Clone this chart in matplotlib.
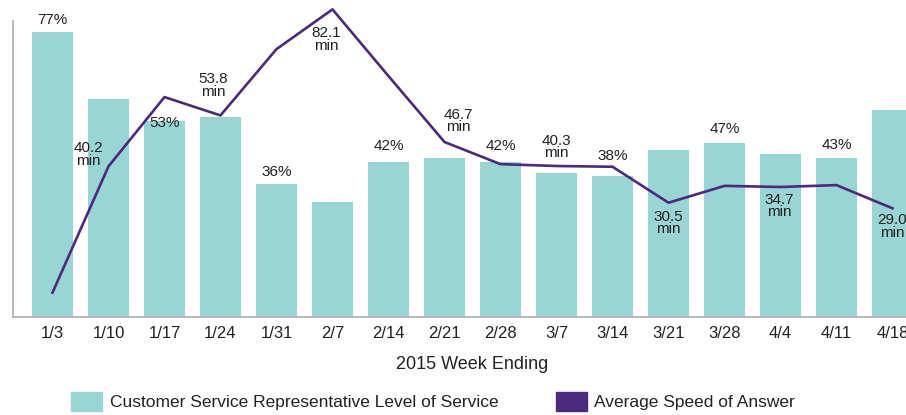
import matplotlib
matplotlib.use("Agg")
import matplotlib.pyplot as plt
from matplotlib.patches import Patch
import numpy as np

# weekly data
weeks = ['1/3', '1/10', '1/17', '1/24', '1/31', '2/7', '2/14', '2/21',
         '2/28', '3/7', '3/14', '3/21', '3/28', '4/4', '4/11', '4/18']
service_pct = [77, 59, 53, 54, 36, 31, 42, 43, 42, 39, 38, 45, 47, 44, 43, 56]
answer_min = [6.5, 40.2, 58.7, 53.8, 71.5, 82.1, 64.3, 46.7,
              40.8, 40.3, 40.1, 30.5, 35.0, 34.7, 35.2, 29.0]

# which points get a data label
bar_labeled = [0, 2, 4, 6, 8, 10, 12, 14]
line_labeled = [1, 3, 5, 7, 9, 11, 13, 15]

teal = '#99d5d4'
purple = '#4b2a7b'
font = ['Liberation Sans', 'DejaVu Sans']
plt.rcParams['font.family'] = font

W, H = 906, 415
fig = plt.figure(figsize=(W / 100, H / 100), dpi=100)
# axes run past the right edge of the figure, like the clipped original
ax = fig.add_axes([13 / W, (H - 317) / H, (932 - 13) / W, 296 / H])
ax2 = ax.twinx()

x = np.arange(len(weeks))
ax.bar(x, service_pct, width=0.73, color=teal, zorder=1)
ax.set_xlim(-0.705, len(weeks) - 1 + 0.705)
ax.set_ylim(0, 80)

ax2.plot(x, answer_min, color=purple, lw=1.9, clip_on=False, zorder=3)
ax2.set_ylim(0, 79)

# bar labels (offset in pixels above bar top)
bar_off = {0: 12, 2: -2, 4: 12, 6: 16, 8: 16, 10: 20, 12: 14, 14: 13}
for i in bar_labeled:
    ax.annotate(f'{service_pct[i]}%', (x[i], service_pct[i]),
                xytext=(0, bar_off[i]), textcoords='offset pixels',
                ha='center', va='center', fontsize=11, color='#222222')

# line labels, placed around the point like the original
line_off = {1: (-20, 12), 3: (-7, 30), 5: (-6, -30), 7: (14, 21),
            9: (0, 19), 11: (0, -20), 13: (-1, -19), 15: (0, -18)}
for i in line_labeled:
    ax2.annotate(f'{answer_min[i]:.1f}\nmin', (x[i], answer_min[i]),
                 xytext=line_off[i], textcoords='offset pixels',
                 ha='center', va='center', fontsize=11,
                 linespacing=0.85, color='#222222', annotation_clip=False)

for a in (ax, ax2):
    for s in ('top', 'right'):
        a.spines[s].set_visible(False)
ax2.spines['left'].set_visible(False)
ax2.spines['bottom'].set_visible(False)
ax2.set_yticks([])
ax.set_yticks([])
for s in ('left', 'bottom'):
    ax.spines[s].set_color('#b3b3b3')
    ax.spines[s].set_linewidth(1.3)

ax.set_xticks(x)
ax.set_xticklabels(weeks, fontsize=12, color='#222222')
ax.tick_params(axis='x', length=0, pad=6.5)
ax.set_xlabel('2015 Week Ending', fontsize=13, labelpad=11, color='#222222')

handles = [Patch(color=teal, label='Customer Service Representative Level of Service'),
           Patch(color=purple, label='Average Speed of Answer')]
fig.legend(handles=handles, loc='center left', bbox_to_anchor=(71 / W, 1 - 401.5 / H),
           ncol=2, frameon=False, prop={'size': 12.5}, labelcolor='#222222',
           handlelength=1.78, handleheight=1.32, handletextpad=0.45,
           columnspacing=3.3, borderaxespad=0, borderpad=0)

fig.savefig('out.png', dpi=100)
